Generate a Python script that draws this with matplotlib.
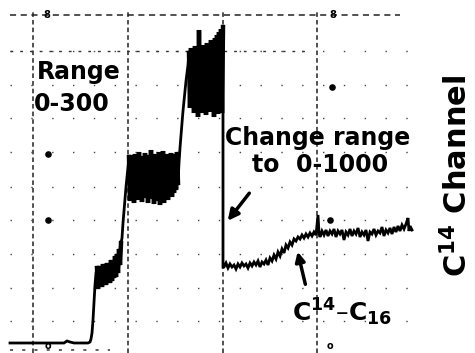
import matplotlib.pyplot as plt

# chart recorder trace (x = chart position, y = pen height)
base_x = [10, 30, 50, 64, 67, 70, 74, 88, 90, 91, 92, 93, 94, 95, 96]
base_y = [10, 10, 10, 10, 12, 11, 10, 10, 11, 14, 20, 33, 50, 68, 80]

step1_x = list(range(97, 122))
step1_y = [85, 64, 87, 67, 84, 66, 89, 69, 87, 68, 90, 71, 88, 70, 93, 72,
           91, 75, 97, 76, 99, 80, 104, 88, 110]

rise1_x = [122, 123, 124, 125, 126, 127, 128]
rise1_y = [115, 130, 142, 155, 166, 176, 185]

step2_x = list(range(129, 179))
step2_y = [196, 152, 198, 155, 193, 150, 199, 156, 195, 153, 201, 157, 194,
           151, 197, 155, 200, 158, 192, 150, 198, 156, 203, 154, 196, 149,
           199, 157, 194, 152, 201, 148, 197, 155, 202, 150, 195, 156, 199,
           153, 197, 158, 200, 156, 196, 160, 199, 163, 201, 170]

rise2_x = [179, 180, 181, 182, 183, 184, 185, 186, 187, 188]
rise2_y = [190, 205, 218, 230, 242, 252, 262, 272, 280, 288]

step3_x = list(range(189, 224))
step3_y = [300, 245, 305, 250, 302, 240, 307, 248, 304, 236, 323, 245, 306,
           240, 308, 246, 305, 238, 310, 244, 307, 241, 313, 247, 311, 236,
           315, 243, 318, 239, 321, 246, 324, 240, 326]

# range switched to 0-1000 here, pen drops
low_x = [223, 224, 226, 228, 230, 232, 234, 236, 238, 240, 242, 244, 246, 248,
         250, 252, 254, 256, 258, 260, 262, 264, 266, 268, 270, 272, 274, 276,
         278, 280, 282, 284, 286, 288, 290, 292, 294, 296, 298, 300, 302, 304,
         306, 308, 310, 312, 314, 316, 318, 319, 320, 322, 324, 326, 328, 330,
         332, 334, 336, 338, 340, 342, 344, 346, 348, 350, 352, 354, 356, 358,
         360, 362, 364, 366, 368, 370, 372, 374, 376, 378, 380, 382, 384, 386,
         388, 390, 392, 394, 396, 398, 400, 402, 404, 406, 408, 409, 410, 412]
low_y = [86, 86, 90, 85, 89, 86, 88, 84, 89, 86, 90, 87, 89, 85,
         90, 87, 91, 88, 92, 86, 91, 89, 93, 88, 95, 92, 98, 94,
         101, 97, 104, 100, 108, 105, 111, 108, 114, 112, 116, 114, 118, 115,
         119, 116, 120, 117, 121, 118, 138, 120, 116, 122, 118, 123, 117, 122,
         119, 124, 116, 122, 119, 123, 113, 121, 118, 124, 117, 122, 119, 125,
         116, 121, 118, 123, 112, 121, 119, 124, 118, 122, 120, 126, 117, 123,
         120, 125, 119, 126, 121, 127, 122, 128, 124, 129, 135, 122, 127, 123]

trace_x = base_x + step1_x + rise1_x + step2_x + rise2_x + step3_x + low_x
trace_y = base_y + step1_y + rise1_y + step2_y + rise2_y + step3_y + low_y

# chart paper grid
grid_x = [33, 128, 223, 317]
grid_y = [302, 268, 235, 201, 166, 133, 99, 65, 32]
top_line = 338

blob_x = [48, 48, 332, 330]
blob_y = [199, 133, 266, 133]

fig = plt.figure(figsize=(4.75, 3.53), dpi=100)
ax = fig.add_axes([0, 0, 1, 1])
ax.set_xlim(0, 475)
ax.set_ylim(0, 353)
ax.axis('off')

ax.vlines(grid_x, 0, 341, colors='#222222', linestyles=(0, (3, 2)), lw=1.1)
ax.hlines(grid_y, 10, 420, colors='#444444', linestyles=(0, (1, 14)), lw=1.0)
ax.hlines([top_line], 10, 400, colors='#222222', linestyles=(0, (4, 3)), lw=1.1)
ax.hlines([302], 10, 310, colors='#333333', linestyles=(0, (2, 5)), lw=1.0)
ax.hlines([3], 10, 110, colors='#333333', linestyles=(0, (2, 6)), lw=1.1)
ax.scatter(blob_x, blob_y, s=14, color='black', zorder=3)
for xx in [47, 333]:
    ax.text(xx, 338, '8', fontsize=7, fontweight='bold', ha='center', va='center')
for xx in [48, 330]:
    ax.text(xx, 7, 'o', fontsize=7, fontweight='bold', ha='center', va='center')

ax.plot(trace_x, trace_y, color='black', lw=2.0, solid_joinstyle='miter')
# noisy plateaus ink in solid on the strip
for sx, sy in [(step1_x, step1_y), (step2_x, step2_y), (step3_x, step3_y)]:
    ax.plot(sx, sy, color='black', lw=3.2, solid_joinstyle='miter')

ax.text(37, 281, 'Range', fontsize=17, fontweight='bold', va='center')
ax.text(34, 249, '0-300', fontsize=17, fontweight='bold', va='center')
ax.text(318, 215, 'Change range', fontsize=17, fontweight='bold',
        ha='center', va='center')
ax.text(320, 188, 'to  0-1000', fontsize=17, fontweight='bold',
        ha='center', va='center')
ax.text(342, 41, r'C$^{\mathbf{14}}$–C$_{\mathbf{16}}$', fontsize=18,
        fontweight='bold', ha='center', va='center')
ax.text(457, 177, r'C$^{\mathbf{14}}$ Channel', fontsize=22, fontweight='bold',
        rotation=90, ha='center', va='center')

ax.annotate('', xy=(226, 130), xytext=(251, 162),
            arrowprops=dict(arrowstyle='-|>', color='black', lw=2.5,
                            mutation_scale=16))
ax.annotate('', xy=(297, 104), xytext=(306, 66),
            arrowprops=dict(arrowstyle='-|>', color='black', lw=2.5,
                            mutation_scale=14))

plt.savefig('out.png')
